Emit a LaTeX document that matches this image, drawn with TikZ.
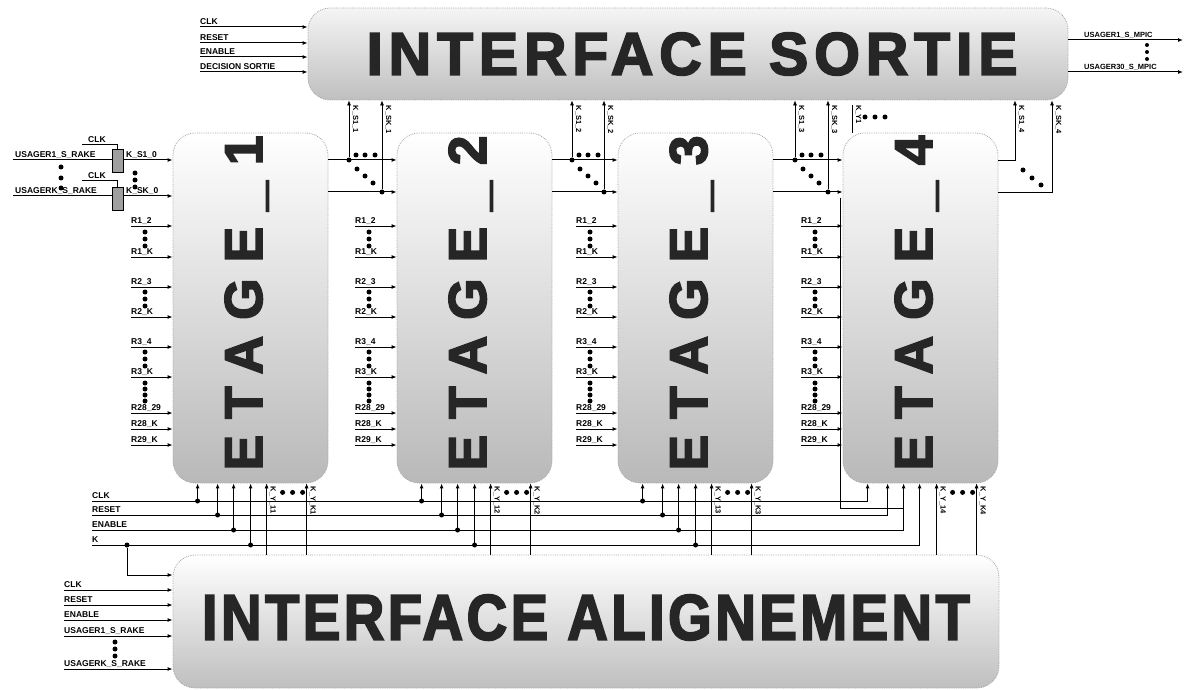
\documentclass[tikz,border=0pt]{standalone}
\usepackage{fontspec}
\setmainfont{Liberation Sans}
\usepackage{graphicx}
\usetikzlibrary{arrows.meta,positioning,calc}

\begin{document}
\begin{tikzpicture}[
      x=1pt, y=-1pt, font=\fontsize{8.5}{9}\selectfont\bfseries,
      blk/.style={draw=gray!70, densely dotted, line width=0.8pt, rounded corners=22pt,
        top color=gray!8, bottom color=gray!50, inner sep=0pt},
      stg/.style={blk, top color=white, bottom color=gray!55,
        minimum width=155pt, minimum height=350pt},
      big/.style={inner sep=0pt, text=black!85},
      reg/.style={draw, fill=gray!75, minimum width=11pt, minimum height=23pt, inner sep=0pt},
      lbl/.style={anchor=base west, inner sep=0pt, yshift=2.5pt},
      vlbl/.style={rotate=-90, anchor=base west, inner sep=0pt,
        font=\fontsize{7.5}{8}\selectfont\bfseries},
      arr/.style={-{Latex[length=5pt,width=4pt]}, line width=1pt},
      thin/.style={-{Latex[length=5pt,width=4pt]}, line width=0.7pt},
      wire/.style={line width=1pt},
      bullet/.style={circle, fill, inner sep=0pt, minimum size=5pt},
    ]
    \useasboundingbox (0,0) rectangle (1187,690);

    % blocks
    \node[blk, minimum width=760pt, minimum height=92pt] (so) at (688,54) {};
    \node[blk, top color=white, minimum width=826pt, minimum height=133pt] (al) at (586,621.5) {};
    \foreach \L [count=\s] in {173,397,618,843}
      \node[stg] (st\s) at (\L+77.5,308) {};

    \node[big] (sotxt) at (692,54)
      {\resizebox{651pt}{42pt}{\fontsize{57}{57}\selectfont\addfontfeature{LetterSpace=10,FakeBold=3}INTERFACE SORTIE}};
    \node[big] (altxt) at (586,617.5)
      {\resizebox{768pt}{45pt}{\fontsize{62}{62}\selectfont\addfontfeature{LetterSpace=6,FakeBold=3}INTERFACE ALIGNEMENT}};
    \foreach \L [count=\s] in {173,397,618,843}
      \node[big, rotate=90, anchor=base] (tx\s) at (\L+89,303)
        {\resizebox{335pt}{!}{\fontsize{52}{52}\selectfont\addfontfeature{LetterSpace=30,FakeBold=3}ETAGE\_\s}};

    % interface sortie in / out
    \foreach \y/\lab [count=\i] in {27/CLK,43/RESET,57/ENABLE,72/DECISION SORTIE} {
      \coordinate (si\i) at (200,\y);
      \draw[arr] (si\i) -- (so.west |- si\i);
      \node[lbl] (sil\i) at (si\i) {\lab};
    }
    \coordinate (mo1) at (1183,40);
    \coordinate (mo2) at (1183,72);
    \draw[arr] (so.east |- mo1) -- (mo1);
    \draw[arr] (so.east |- mo2) -- (mo2);
    \node[lbl, font=\fontsize{7.5}{8}\selectfont\bfseries] (mol1) at (1084,40) {USAGER1\_S\_MPIC};
    \node[lbl, font=\fontsize{7.5}{8}\selectfont\bfseries] (mol2) at (1084,72) {USAGER30\_S\_MPIC};
    \foreach \y in {45,52,59} \node[bullet, minimum size=4pt] (mod\y) at (1147,\y) {};

    % rake inputs of stage 1
    \coordinate (u1) at (13,160);
    \coordinate (uk) at (13,196);
    \draw[arr] (u1) -- (st1.west |- u1);
    \draw[arr] (uk) -- (st1.west |- uk);
    \node[lbl, xshift=2pt] (u1l) at (u1) {USAGER1\_S\_RAKE};
    \node[lbl, xshift=2pt] (ukl) at (uk) {USAGERK\_S\_RAKE};
    \node[reg] (rg1) at (117.5,160.5) {};
    \node[reg] (rgk) at (117.5,198.5) {};
    \coordinate (ck1) at (82,145);
    \coordinate (ckk) at (82,181);
    \draw[wire] (ck1) -| (rg1.north);
    \draw[wire] (ckk) -| (rgk.north);
    \node[lbl] (ck1l) at (88,145) {CLK};
    \node[lbl] (ckkl) at (88,181) {CLK};
    \node[lbl] (ks10) at (126,160) {K\_S1\_0};
    \node[lbl] (ksk0) at (126,196) {K\_SK\_0};
    \foreach \y in {167,178,188} \node[bullet] (ud\y) at (61,\y) {};
    \foreach \y in {173,180,187} \node[bullet] (kd\y) at (135,\y) {};

    % R inputs of every stage
    \foreach \L [count=\s] in {173,397,618,843} {
      \foreach \y/\lab in {226/R1\_2,257/R1\_K,287/R2\_3,317/R2\_K,347/R3\_4,
                           377/R3\_K,413/R28\_29,429/R28\_K,445/R29\_K} {
        \coordinate (r\s\y) at (\L-42,\y);
        \draw[arr] (r\s\y) -- (st\s.west |- r\s\y);
        \node[lbl] (rl\s\y) at (r\s\y) {\lab};
      }
      \foreach \y in {232,239,246,292,299,306,352,359,366,383,389,395,401}
        \node[bullet] (rd\s\y) at (\L-28,\y) {};
    }

    % stage to stage and up to interface sortie
    \foreach \s/\n/\xa/\xb in {1/2/349/382,2/3/572/604,3/4/795/828} {
      \coordinate (oa\s) at (\xa,160);
      \coordinate (ob\s) at (\xb,192);
      \draw[arr] (st\s.east |- oa\s) -- (st\n.west |- oa\s);
      \draw[arr] (st\s.east |- ob\s) -- (st\n.west |- ob\s);
      \node[bullet] (ja\s) at (oa\s) {};
      \node[bullet] (jb\s) at (ob\s) {};
      \draw[thin] (ja\s) -- (so.south -| ja\s);
      \draw[thin] (jb\s) -- (so.south -| jb\s);
      \path (so.south -| oa\s) coordinate (ta\s) (so.south -| ob\s) coordinate (tb\s);
      \node[vlbl] (tal\s) at ([xshift=4pt,yshift=-5pt]ta\s) {K\_S1\_\s};
      \node[vlbl] (tbl\s) at ([xshift=4pt,yshift=-5pt]tb\s) {K\_SK\_\s};
      \foreach \dx in {7,16,26} \node[bullet] (hd\s\dx) at (\xa+\dx,155) {};
      \foreach \dx/\dy in {8/169,16/176,24/183} \node[bullet] (gd\s\dx) at (\xa+\dx,\dy) {};
    }
    \coordinate (oa4) at (1015,160);
    \coordinate (ob4) at (1052,192);
    \draw[thin] (st4.east |- oa4) -| (so.south -| oa4);
    \draw[thin] (st4.east |- ob4) -| (so.south -| ob4);
    \path (so.south -| oa4) coordinate (ta4) (so.south -| ob4) coordinate (tb4);
    \node[vlbl] (tal4) at ([xshift=4pt,yshift=-5pt]ta4) {K\_S1\_4};
    \node[vlbl] (tbl4) at ([xshift=4pt,yshift=-5pt]tb4) {K\_SK\_4};
    \foreach \x/\y in {1023/170,1032/178,1041/185} \node[bullet] (sd\x) at (\x,\y) {};

    % K_Y1 above stage 4
    \coordinate (kyt) at (852,105);
    \draw[line width=0.7pt] (st4.north -| kyt) -- (kyt);
    \node[vlbl] (kytl) at ([xshift=4pt]kyt) {K\_Y1};
    \foreach \x in {865,875,885} \node[bullet] (yd\x) at (\x,117) {};

    % bus
    \coordinate (bclk) at (92,501);
    \coordinate (brst) at (92,515);
    \coordinate (ben) at (92,530);
    \coordinate (bk) at (92,545);
    \node[lbl] (bclkl) at (bclk) {CLK};
    \node[lbl] (brstl) at (brst) {RESET};
    \node[lbl] (benl) at (ben) {ENABLE};
    \node[lbl] (bkl) at (bk) {K};
    \draw[arr] (bclk) -| ([xshift=25pt]st4.south west);
    \draw[arr] (brst) -| ([xshift=45pt]st4.south west);
    \draw[arr] (ben) -| ([xshift=61pt]st4.south west);
    \draw[arr] (bk) -| ([xshift=77pt]st4.south west);
    \coordinate (sl) at (840,198);
    \coordinate (se) at (904,508);
    \draw[line width=0.7pt] (sl) |- (se);
    \foreach \s in {1,2,3} {
      \coordinate (cc\s) at ([xshift=25pt]st\s.south west);
      \coordinate (cr\s) at ([xshift=45pt]st\s.south west);
      \coordinate (ce\s) at ([xshift=61pt]st\s.south west);
      \coordinate (ck\s) at ([xshift=78pt]st\s.south west);
      \draw[arr] (bclk -| cc\s) node[bullet] (jc\s) {} -- (cc\s);
      \draw[arr] (brst -| cr\s) node[bullet] (jr\s) {} -- (cr\s);
      \draw[arr] (ben -| ce\s) node[bullet] (je\s) {} -- (ce\s);
      \draw[arr] (bk -| ck\s) node[bullet] (jk\s) {} -- (ck\s);
    }

    % K_Y lines from interface alignement
    \foreach \s in {1,...,4} {
      \coordinate (ya\s) at ([xshift=94pt]st\s.south west);
      \coordinate (yb\s) at ([xshift=134pt]st\s.south west);
      \draw[thin] (al.north -| ya\s) -- (ya\s);
      \draw[thin] (al.north -| yb\s) -- (yb\s);
      \node[vlbl] (yal\s) at ([xshift=4pt,yshift=-3pt]ya\s) {K\_Y\_1\s};
      \node[vlbl] (ybl\s) at ([xshift=4pt,yshift=-3pt]yb\s) {K\_Y\_K\s};
      \foreach \dx in {16,26,36} \node[bullet] (yd\s\dx) at ([xshift=\dx pt,yshift=-9pt]ya\s) {};
    }

    % interface alignement inputs
    \node[bullet] (kj) at (127,545) {};
    \coordinate (kt) at (127,575);
    \draw[arr] (kj) -- (kt) -- (al.west |- kt);
    \foreach \y/\lab [count=\i] in {590/CLK,605/RESET,620/ENABLE,636/USAGER1\_S\_RAKE,669/USAGERK\_S\_RAKE} {
      \coordinate (ai\i) at (64,\y);
      \draw[arr] (ai\i) -- (al.west |- ai\i);
      \node[lbl] (ail\i) at (ai\i) {\lab};
    }
    \foreach \y in {642,649,656} \node[bullet] (ad\y) at (115,\y) {};
  \end{tikzpicture}
\end{document}
